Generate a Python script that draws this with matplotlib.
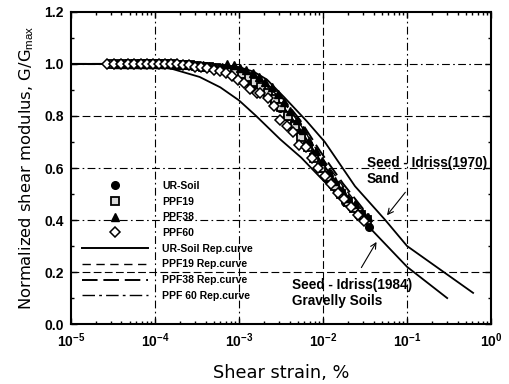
"""normalized shear modulus vs shear strain, with Seed-Idriss bounds"""

import matplotlib
matplotlib.use("Agg")
import matplotlib.pyplot as plt
from matplotlib.ticker import FixedLocator, LogLocator, NullFormatter

plt.rcParams["font.family"] = ["Liberation Sans", "DejaVu Sans"]
plt.rcParams["mathtext.fontset"] = "custom"
plt.rcParams["mathtext.rm"] = "Liberation Sans"
plt.rcParams["mathtext.bf"] = "Liberation Sans:bold"
plt.rcParams["mathtext.it"] = "Liberation Sans:italic"

###################################################################################################
#                                              DATA                                               #

# Seed - Idriss (1970) sand curve
SAND_STRAIN = [1e-5, 1e-4, 3e-4, 6e-4, 1e-3, 1.5e-3, 2.15e-3, 3.5e-3, 6.4e-3, 1.05e-2, 2.4e-2, 5.5e-2, 0.1, 0.61]
SAND_G = [1.0, 1.0, 1.0, 0.995, 0.988, 0.97, 0.94, 0.87, 0.78, 0.70, 0.53, 0.40, 0.30, 0.12]

# Seed - Idriss (1984) gravelly soils curve
GRAVEL_STRAIN = [1e-5, 5e-5, 1e-4, 1.64e-4, 3.4e-4, 6e-4, 1e-3, 1.6e-3, 3.1e-3, 5.5e-3, 9.2e-3, 1.8e-2, 3.6e-2, 0.1, 0.3]
GRAVEL_G = [1.0, 1.0, 0.995, 0.98, 0.95, 0.91, 0.86, 0.80, 0.71, 0.64, 0.565, 0.47, 0.37, 0.22, 0.10]

# representative curves
REP_STRAIN = [1e-5, 1e-4, 3.4e-4, 1.02e-3, 1.8e-3, 3.1e-3, 5.3e-3, 9.2e-3, 1.73e-2, 3.6e-2]
REP_UR = [1.0, 1.0, 0.993, 0.955, 0.92, 0.85, 0.75, 0.63, 0.51, 0.385]
REP_PPF19 = [1.0, 1.0, 0.996, 0.965, 0.935, 0.87, 0.77, 0.65, 0.53, 0.40]
REP_PPF38 = [1.0, 1.0, 0.997, 0.97, 0.94, 0.88, 0.785, 0.665, 0.54, 0.41]
REP_PPF60 = [1.0, 1.0, 0.99, 0.95, 0.91, 0.84, 0.74, 0.62, 0.50, 0.38]

# measured points
UR_STRAIN = [3.2e-5, 3.8e-5, 4.5e-5, 5.3e-5, 6.2e-5, 7.3e-5, 8.6e-5, 1e-4, 1.2e-4, 1.4e-4, 1.7e-4,
             2e-4, 2.4e-4, 2.9e-4, 3.5e-4, 4.2e-4, 5e-4, 6e-4, 7.2e-4, 8.6e-4, 1.03e-3, 1.25e-3,
             1.5e-3, 1.8e-3, 2.2e-3, 2.6e-3, 3.1e-3, 3.7e-3, 4.4e-3, 5.3e-3, 6.3e-3, 7.5e-3, 9e-3,
             1.07e-2, 1.28e-2, 1.53e-2, 1.82e-2, 2.17e-2, 2.6e-2, 3.1e-2, 3.5e-2]
UR_G = [1.0, 1.0, 1.0, 1.0, 1.0, 1.0, 1.0, 1.0, 1.0, 0.998, 0.998, 0.996, 0.995, 0.993, 0.99,
        0.987, 0.983, 0.978, 0.972, 0.963, 0.95, 0.935, 0.92, 0.90, 0.875, 0.855, 0.83, 0.80,
        0.77, 0.73, 0.69, 0.65, 0.60, 0.56, 0.535, 0.50, 0.47, 0.45, 0.42, 0.40, 0.375]

PPF19_STRAIN = [3e-5, 3.6e-5, 4.3e-5, 5.1e-5, 6e-5, 7e-5, 8.2e-5, 9.6e-5, 1.13e-4, 1.33e-4, 1.57e-4,
                1.85e-4, 2.2e-4, 2.6e-4, 3.1e-4, 3.7e-4, 4.4e-4, 5.3e-4, 6.3e-4, 7.5e-4, 9e-4,
                1.08e-3, 1.3e-3, 1.55e-3, 1.85e-3, 2.2e-3, 2.65e-3, 3.2e-3, 3.8e-3, 4.6e-3, 5.5e-3,
                6.6e-3, 7.9e-3, 9.5e-3, 1.14e-2, 1.37e-2, 1.64e-2, 1.97e-2, 2.36e-2, 2.83e-2, 3.3e-2]
PPF19_G = [1.0, 1.0, 1.0, 1.0, 1.0, 1.0, 1.0, 1.0, 1.0, 0.999, 0.998, 0.997, 0.996, 0.994, 0.992,
           0.99, 0.988, 0.985, 0.98, 0.975, 0.968, 0.96, 0.948, 0.932, 0.912, 0.89, 0.865, 0.835,
           0.80, 0.76, 0.72, 0.68, 0.64, 0.60, 0.565, 0.53, 0.50, 0.47, 0.445, 0.42, 0.40]

PPF38_STRAIN = [3.5e-5, 4.2e-5, 5e-5, 5.9e-5, 7e-5, 8.2e-5, 9.7e-5, 1.15e-4, 1.35e-4, 1.6e-4, 1.9e-4,
                2.25e-4, 2.65e-4, 3.15e-4, 3.7e-4, 4.4e-4, 5.2e-4, 6.2e-4, 7.3e-4, 8.7e-4, 1.03e-3,
                1.22e-3, 1.45e-3, 1.72e-3, 2.05e-3, 2.45e-3, 2.9e-3, 3.45e-3, 4.1e-3, 4.9e-3, 5.8e-3,
                6.9e-3, 8.2e-3, 9.8e-3, 1.17e-2, 1.4e-2, 1.67e-2, 2e-2, 2.4e-2, 2.9e-2, 3.4e-2]
PPF38_G = [1.0, 1.0, 1.0, 1.0, 1.0, 1.0, 1.0, 1.0, 1.0, 1.0, 0.999, 0.998, 0.997, 0.996, 0.994,
           0.992, 0.99, 0.99, 1.0, 0.995, 0.985, 0.975, 0.965, 0.95, 0.93, 0.91, 0.885, 0.855,
           0.82, 0.785, 0.745, 0.705, 0.665, 0.625, 0.585, 0.55, 0.515, 0.485, 0.46, 0.43, 0.41]

PPF60_STRAIN = [2.7e-5, 3.3e-5, 4e-5, 4.8e-5, 5.7e-5, 6.8e-5, 8e-5, 9.5e-5, 1.12e-4, 1.32e-4, 1.56e-4,
                1.84e-4, 2.17e-4, 2.56e-4, 3e-4, 3.55e-4, 4.2e-4, 5e-4, 5.9e-4, 7e-4, 8.3e-4,
                9.8e-4, 1.16e-3, 1.37e-3, 1.62e-3, 1.8e-3, 2.2e-3, 2.6e-3, 3.1e-3, 3.7e-3, 4.4e-3,
                5.2e-3, 6.2e-3, 7.4e-3, 8.8e-3, 1.05e-2, 1.25e-2, 1.5e-2, 1.8e-2, 2.15e-2, 2.6e-2, 3.1e-2]
PPF60_G = [1.0, 1.0, 1.0, 1.0, 1.0, 1.0, 1.0, 1.0, 1.0, 1.0, 0.999, 0.998, 0.996, 0.994, 0.99,
           0.987, 0.983, 0.978, 0.972, 0.965, 0.955, 0.94, 0.925, 0.905, 0.89, 0.89, 0.87, 0.84,
           0.785, 0.76, 0.74, 0.69, 0.68, 0.64, 0.60, 0.57, 0.54, 0.505, 0.48, 0.45, 0.42, 0.395]

X_TICKS = [1e-5, 1e-4, 1e-3, 1e-2, 1e-1, 1e0]
X_TICK_LABELS = [r"$\mathbf{10^{-5}}$", r"$\mathbf{10^{-4}}$", r"$\mathbf{10^{-3}}$",
                 r"$\mathbf{10^{-2}}$", r"$\mathbf{10^{-1}}$", r"$\mathbf{10^{0}}$"]
Y_TICKS = [0.0, 0.2, 0.4, 0.6, 0.8, 1.0, 1.2]

#                                              DATA                                               #
###################################################################################################


fig = plt.figure(figsize=(5.1, 3.84), dpi=100)
ax = fig.add_axes([0.139, 0.156, 0.824, 0.813])

ax.set_xscale("log")
ax.set_xlim(1e-5, 1e0)
ax.set_ylim(0.0, 1.2)

# grid, mixed dash styles like the scanned original
dashdot = (0, (7, 3, 1.5, 3))
dashed = (0, (7, 3))
for xv, ls in zip(X_TICKS[1:-1], [dashdot, dashdot, dashed, dashdot]):
    ax.axvline(xv, color="k", lw=0.8, ls=ls, zorder=0)
for yv, ls in zip(Y_TICKS[1:-1], [dashed, dashdot, dashdot, dashed, dashdot]):
    ax.axhline(yv, color="k", lw=0.8, ls=ls, zorder=0)

# bound curves
ax.plot(SAND_STRAIN, SAND_G, color="k", lw=1.3, zorder=2)
ax.plot(GRAVEL_STRAIN, GRAVEL_G, color="k", lw=1.3, zorder=2)

# representative curves
ax.plot(REP_STRAIN, REP_UR, color="k", lw=1.4, label="UR-Soil Rep.curve", zorder=2)
ax.plot(REP_STRAIN, REP_PPF19, color="k", lw=1.0, ls=(0, (6, 4)), label="PPF19 Rep.curve", zorder=2)
ax.plot(REP_STRAIN, REP_PPF38, color="k", lw=1.4, ls=(0, (8, 3)), label="PPF38 Rep.curve", zorder=2)
ax.plot(REP_STRAIN, REP_PPF60, color="k", lw=1.0, ls=(0, (9, 3, 2, 3)), label="PPF 60 Rep.curve", zorder=2)

# measured data
mk = dict(ls="none", color="k", mec="k", ms=5.5, zorder=3)
ax.plot(UR_STRAIN, UR_G, marker="o", label="UR-Soil", **mk)
ax.plot(PPF19_STRAIN, PPF19_G, marker="s", mfc="0.85", mew=1.3, label="PPF19", **mk)
ax.plot(PPF38_STRAIN, PPF38_G, marker="^", label="PPF38", **mk)
ax.plot(PPF60_STRAIN, PPF60_G, marker="D", mfc="white", mew=1.1, label="PPF60", **mk)

# annotations
txt = dict(fontsize=9.8, fontweight="bold", family=["Liberation Sans Narrow", "Liberation Sans"])
ax.text(0.0334, 0.59, "Seed - Idriss(1970)\nSand", va="center", ha="left", linespacing=1.2, **txt)
ax.annotate("", xy=(0.055, 0.41), xytext=(0.1, 0.515),
            arrowprops=dict(arrowstyle="->", color="k", lw=0.8))
ax.text(0.00428, 0.118, "Seed - Idriss(1984)\nGravelly Soils", va="center", ha="left", linespacing=1.2, **txt)
ax.annotate("", xy=(0.045, 0.325), xytext=(0.0275, 0.208),
            arrowprops=dict(arrowstyle="->", color="k", lw=0.8))

# ticks
ax.xaxis.set_major_locator(FixedLocator(X_TICKS))
ax.set_xticklabels(X_TICK_LABELS)
ax.xaxis.set_minor_locator(LogLocator(base=10, subs=range(2, 10), numticks=20))
ax.xaxis.set_minor_formatter(NullFormatter())
ax.set_yticks(Y_TICKS)
ax.set_yticklabels([f"{v:.1f}" for v in Y_TICKS])
ax.set_yticks([0.1, 0.3, 0.5, 0.7, 0.9, 1.1], minor=True)
ax.tick_params(which="both", direction="in", top=True, right=True, width=1.0)
ax.tick_params(which="major", length=4, labelsize=10, pad=5)
ax.tick_params(which="minor", length=2.5)
for lab in ax.get_yticklabels():
    lab.set_fontweight("bold")
for sp in ax.spines.values():
    sp.set_linewidth(1.5)

ax.set_xlabel("Shear strain, %", family="DejaVu Sans", fontsize=12.8, labelpad=10)
ax.set_ylabel(r"Normalized shear modulus, G/G$_{\mathrm{max}}$", family="DejaVu Sans", fontsize=11.8, labelpad=6)

handles, labels = ax.get_legend_handles_labels()
order = [4, 5, 6, 7, 0, 1, 2, 3]
ax.legend([handles[i] for i in order], [labels[i] for i in order],
          loc="upper left", bbox_to_anchor=(0.027, 0.459), frameon=False, borderpad=0,
          borderaxespad=0, handlelength=6.3, handletextpad=1.4, labelspacing=0.55,
          prop=dict(size=7.5, weight="bold", family=["Liberation Sans Narrow", "Liberation Sans"]))

fig.savefig("out.png", dpi=100)
